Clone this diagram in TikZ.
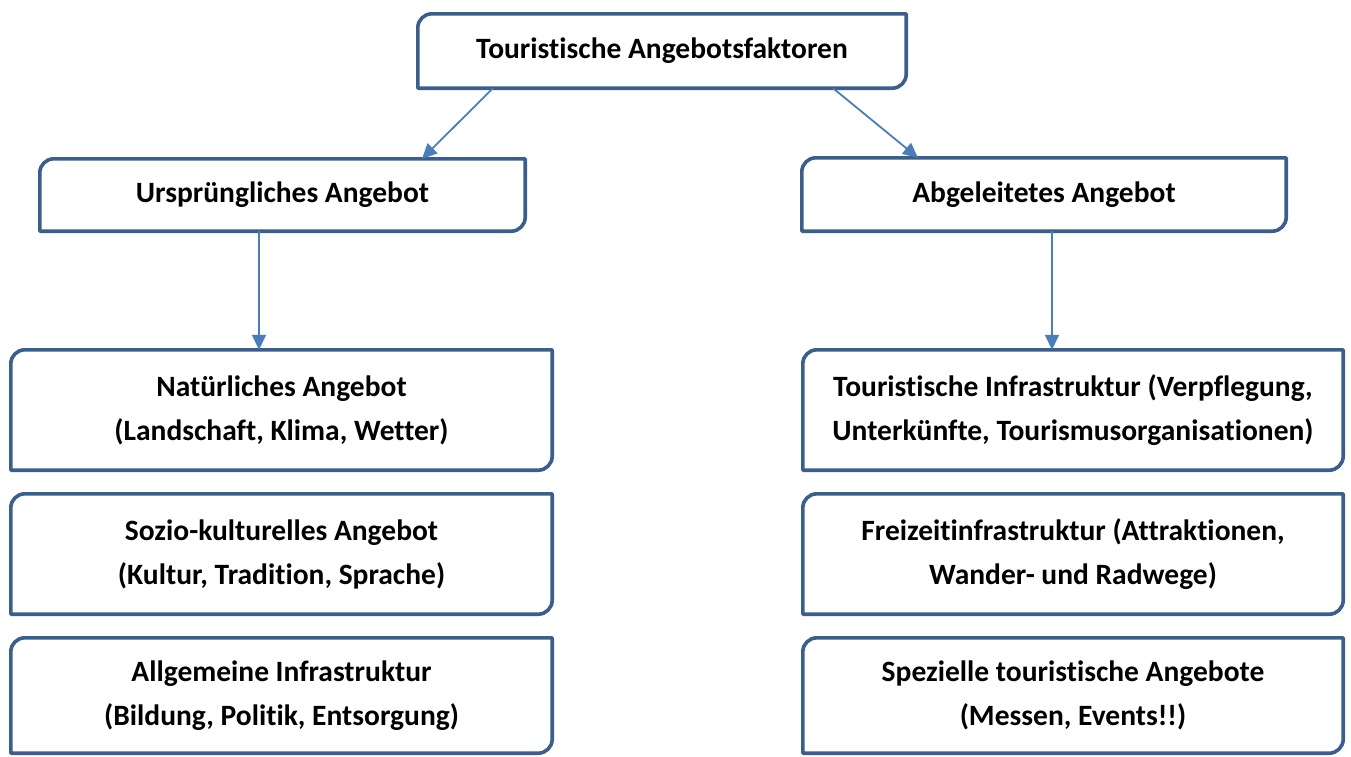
\documentclass[tikz,border=0pt]{standalone}
\usepackage{fontspec}
\setmainfont{Carlito}[Ligatures=NoCommon]
\usetikzlibrary{arrows.meta,calc}
\definecolor{boxblue}{HTML}{3A5F8C}
\definecolor{arrowblue}{HTML}{4A7EBB}
\tikzset{
  x=1pt, y=1pt,
  factor/.style={minimum width=#1, inner sep=0pt, align=center,
    font=\fontsize{29.5}{44}\selectfont\bfseries},
  outline/.style={draw=boxblue, line width=3.6pt, line join=round},
  link/.style={draw=arrowblue, line width=1.8pt,
    -{Triangle[length=15pt,width=14pt]}},
}
% box outline: rounded top-left and bottom-right corners only
\newcommand\cornerbox[2][14]{%
  \draw[outline] ($(#2.north west)+(#1,0)$) -- (#2.north east)
    -- ($(#2.south east)+(0,#1)$) arc[start angle=0,end angle=-90,radius=#1]
    -- (#2.south west) -- ($(#2.north west)+(0,-#1)$)
    arc[start angle=180,end angle=90,radius=#1] -- cycle;}
\begin{document}
\begin{tikzpicture}
\useasboundingbox (0,0) rectangle (1351,-756);
\fill[white] (0,0) rectangle (1351,-756);

\node[factor=488pt, minimum height=74pt] (top) at (662,-51) {Touristische Angebotsfaktoren};

\node[factor=485pt, minimum height=72pt] (urs) at (282.5,-195) {Ursprüngliches Angebot};
\node[factor=484pt, minimum height=73pt] (abg) at (1044,-194.5) {Abgeleitetes Angebot};

\node[factor=541pt, minimum height=120pt] (nat) at (281.5,-410) {Natürliches Angebot\\(Landschaft, Klima, Wetter)};
\node[factor=541pt, minimum height=120pt] (soz) at (281.5,-554) {Sozio-kulturelles Angebot\\(Kultur, Tradition, Sprache)};
\node[factor=541pt, minimum height=115pt] (allg) at (281.5,-695.5) {Allgemeine Infrastruktur\\(Bildung, Politik, Entsorgung)};

\node[factor=540pt, minimum height=120pt] (tinf) at (1073,-410) {Touristische Infrastruktur (Verpflegung,\\Unterkünfte, Tourismusorganisationen)};
\node[factor=540pt, minimum height=120pt] (frei) at (1073,-554) {Freizeitinfrastruktur (Attraktionen,\\Wander- und Radwege)};
\node[factor=540pt, minimum height=115pt] (spez) at (1073,-695.5) {Spezielle touristische Angebote\\(Messen, Events!!)};

\foreach \b in {top,urs,abg,nat,soz,allg,tinf,frei,spez} {\cornerbox{\b}}

\draw[link] ([xshift=-169pt]top.south) -- ([xshift=139.5pt]urs.north);
\draw[link] ([xshift=171pt]top.south) -- ([xshift=-126pt]abg.north);
\draw[link] ([xshift=-23.5pt]urs.south) -- ([xshift=-23.5pt]urs.south |- nat.north);
\draw[link] ([xshift=8pt]abg.south) -- ([xshift=8pt]abg.south |- tinf.north);
\end{tikzpicture}
\end{document}
